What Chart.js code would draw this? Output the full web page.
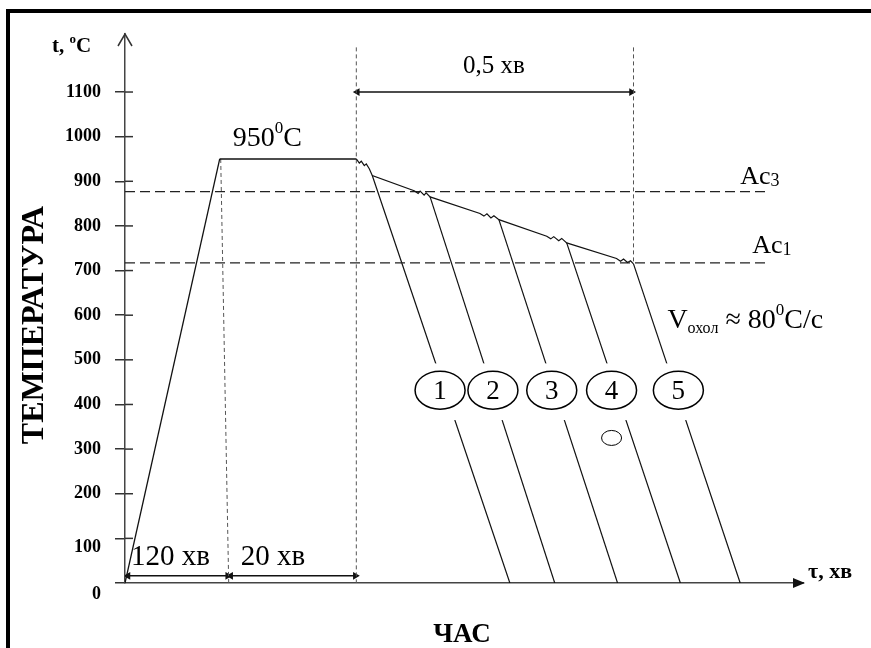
<!DOCTYPE html>
<html>
<head>
<meta charset="utf-8">
<script src="https://cdn.jsdelivr.net/npm/chart.js@4.4.1/dist/chart.umd.min.js"></script>
<style>
  html, body { margin: 0; padding: 0; background: #fff; }
  #wrap { position: relative; width: 871px; height: 648px; overflow: hidden; }
  #frame { position: absolute; left: 6px; top: 9px; right: -10px; bottom: -10px; border-top: 4px solid #000; border-left: 4px solid #000; pointer-events: none; }
  canvas { position: absolute; left: 0; top: 0; }
</style>
</head>
<body>
<div id="wrap">
  <canvas id="chart" width="871" height="648"></canvas>
  <div id="frame"></div>
</div>
<script>
// --- DATA (time in schematic units, temperature in °C) ---
const yTicks = [0, 100, 200, 300, 400, 500, 600, 700, 800, 900, 1000, 1100];
const lowTicks = [0, 100]; // these two labels sit a little lower in the original
const heating = [[0, 0], [9.5, 950]];
const holding = [[9.5, 950], [23.2, 950]];
// slow cooling from 950 to Ac1, with the small wavy spots before each branch
const slowCool = [
  [23.2, 950], [23.5, 941], [23.7, 945], [24.0, 935], [24.2, 939], [24.5, 928], [24.8, 913],
  [29.0, 879], [29.4, 873], [29.6, 878], [30.0, 869], [30.2, 874], [30.6, 865],
  [35.6, 828], [36.0, 822], [36.3, 827], [36.7, 818], [37.0, 823], [37.5, 814],
  [42.3, 777], [42.7, 771], [43.0, 776], [43.5, 767], [43.8, 772], [44.3, 762],
  [49.3, 727], [49.7, 721], [50.0, 726], [50.4, 718], [50.7, 722], [51.0, 715]
];
const quenchStart = [[24.8, 913], [30.6, 865], [37.5, 814], [44.3, 762], [51.0, 715]];
const quenchEnd = [38.6, 43.1, 49.4, 55.7, 61.7];
const quenchNames = ['1', '2', '3', '4', '5'];
const ac3 = 877, ac1 = 717, acEnd = 64.4;
const guideHeat = [[9.6, 950], [10.4, 0]];
const guideHold = [[23.2, 1200], [23.2, 0]];
const guideHalf = [[51.0, 1200], [51.0, 715]];
const dim120 = [[0.3, 16], [10.3, 16]];
const dim20 = [[10.6, 16], [23.1, 16]];
const dimHalf = [[23.3, 1100], [50.8, 1100]];

const SERIF = '"Liberation Serif", "Times New Roman", serif';
const pts = a => a.map(p => ({ x: p[0], y: p[1] }));

function line(data, opts) {
  return Object.assign({ data: pts(data), showLine: true, pointRadius: 0, borderColor: '#111',
    borderWidth: 1.3, fill: false, tension: 0 }, opts || {});
}
function dimArrow(data) {
  return line(data, { borderWidth: 1.5, pointRadius: 4.5, pointStyle: 'triangle',
    pointRotation: [-90, 90], pointBackgroundColor: '#111', pointBorderWidth: 0 });
}

const datasets = [
  line(heating), line(holding), line(slowCool, { borderWidth: 1.2 }),
  line([[0, ac3], [acEnd, ac3]], { borderDash: [10, 5], borderColor: '#222' }),
  line([[0, ac1], [acEnd, ac1]], { borderDash: [10, 5], borderColor: '#222' }),
  line(guideHeat, { borderDash: [4, 3], borderColor: '#555', borderWidth: 1 }),
  line(guideHold, { borderDash: [4, 3], borderColor: '#555', borderWidth: 1 }),
  line(guideHalf, { borderDash: [4, 3], borderColor: '#555', borderWidth: 1 }),
  dimArrow(dim120), dimArrow(dim20), dimArrow(dimHalf)
];
quenchStart.forEach((p, i) => datasets.push(line([p, [quenchEnd[i], 0]], { borderWidth: 1.2 })));

// --- texts, arrows, circles ---
function rich(ctx, x, y, parts, align) {
  let w = 0;
  parts.forEach(p => { ctx.font = (p.bold ? 'bold ' : '') + p.size + 'px ' + SERIF; w += ctx.measureText(p.t).width; });
  let cx = align === 'center' ? x - w / 2 : x;
  ctx.textAlign = 'left'; ctx.textBaseline = 'alphabetic';
  parts.forEach(p => {
    ctx.font = (p.bold ? 'bold ' : '') + p.size + 'px ' + SERIF;
    ctx.fillText(p.t, cx, y + (p.dy || 0));
    cx += ctx.measureText(p.t).width;
  });
}

const decor = {
  id: 'decor',
  afterDatasetsDraw(chart) {
    const { ctx, scales: { x, y } } = chart;
    ctx.save();
    // lines are broken where the numbered labels sit
    ctx.fillStyle = '#fff';
    ctx.fillRect(x.getPixelForValue(28), y.getPixelForValue(492), x.getPixelForValue(59) - x.getPixelForValue(28),
      y.getPixelForValue(365) - y.getPixelForValue(492));
    const cxs = [31.6, 36.9, 42.8, 48.8, 55.5];
    ctx.lineWidth = 1.5; ctx.strokeStyle = '#000';
    cxs.forEach((v, i) => {
      const px = x.getPixelForValue(v), py = y.getPixelForValue(432);
      ctx.beginPath(); ctx.ellipse(px, py, 25, 19, 0, 0, Math.PI * 2);
      ctx.fillStyle = '#fff'; ctx.fill(); ctx.stroke();
      ctx.fillStyle = '#000'; ctx.font = '27px ' + SERIF; ctx.textAlign = 'center'; ctx.textBaseline = 'middle';
      ctx.fillText(quenchNames[i], px, py + 2);
    });
    ctx.beginPath(); ctx.lineWidth = 1;
    ctx.ellipse(x.getPixelForValue(48.8), y.getPixelForValue(325), 10, 7.5, 0, 0, Math.PI * 2); ctx.stroke();
    ctx.restore();
  },
  afterDraw(chart) {
    const { ctx, chartArea: a, scales: { x, y } } = chart;
    ctx.save();
    ctx.strokeStyle = '#333'; ctx.fillStyle = '#111'; ctx.lineWidth = 1.5;
    // inner halves of the y tick marks
    yTicks.forEach(v => { if (!v) return; const py = y.getPixelForValue(v);
      ctx.beginPath(); ctx.moveTo(a.left, py); ctx.lineTo(a.left + 8, py); ctx.stroke(); });
    // y axis open arrow head
    ctx.beginPath(); ctx.moveTo(a.left - 7, a.top + 12); ctx.lineTo(a.left, a.top); ctx.lineTo(a.left + 7, a.top + 12); ctx.stroke();
    // x axis filled arrow head
    ctx.beginPath(); ctx.moveTo(a.right + 2, a.bottom); ctx.lineTo(a.right - 10, a.bottom - 5); ctx.lineTo(a.right - 10, a.bottom + 5);
    ctx.closePath(); ctx.fill();

    ctx.fillStyle = '#000';
    // the two lowest tick labels, shifted down as in the original
    ctx.font = 'bold 18px ' + SERIF; ctx.textAlign = 'right'; ctx.textBaseline = 'middle';
    lowTicks.forEach(v => ctx.fillText(String(v), a.left - 24, y.getPixelForValue(v) + (v ? 9 : 11)));

    rich(ctx, 52, 52, [{ t: 't, ', size: 21, bold: true }, { t: 'o', size: 13, bold: true, dy: -9 }, { t: 'C', size: 21, bold: true }]);
    rich(ctx, a.right + 5, a.bottom - 5, [{ t: 'τ, хв', size: 22, bold: true }]);
    ctx.font = 'bold 27px ' + SERIF; ctx.textAlign = 'center'; ctx.textBaseline = 'alphabetic';
    ctx.fillText('ЧАС', 462, 642);
    ctx.save(); ctx.translate(43, 325); ctx.rotate(-Math.PI / 2);
    ctx.font = 'bold 32px ' + SERIF; ctx.fillText('ТЕМПЕРАТУРА', 0, 0, 250); ctx.restore();

    rich(ctx, x.getPixelForValue(10.8), y.getPixelForValue(980), [{ t: '950', size: 28 }, { t: '0', size: 17, dy: -13 }, { t: 'C', size: 28 }]);
    rich(ctx, x.getPixelForValue(37.0), y.getPixelForValue(1142), [{ t: '0,5 хв', size: 25 }], 'center');
    rich(ctx, x.getPixelForValue(61.7), y.getPixelForValue(893), [{ t: 'Ac', size: 26 }, { t: '3', size: 18, dy: 2 }]);
    rich(ctx, x.getPixelForValue(62.9), y.getPixelForValue(740), [{ t: 'Ac', size: 26 }, { t: '1', size: 18, dy: 2 }]);
    rich(ctx, x.getPixelForValue(54.4), y.getPixelForValue(572), [{ t: 'V', size: 28 }, { t: 'охол', size: 16, dy: 5 },
      { t: ' ≈ 80', size: 28 }, { t: '0', size: 17, dy: -13 }, { t: 'C/с', size: 28 }]);
    rich(ctx, x.getPixelForValue(0.6), y.getPixelForValue(40), [{ t: '120 хв', size: 29 }]);
    rich(ctx, x.getPixelForValue(11.6), y.getPixelForValue(40), [{ t: '20 хв', size: 29 }]);
    ctx.restore();
  }
};

new Chart(document.getElementById('chart'), {
  type: 'scatter',
  data: { datasets },
  options: {
    responsive: false, animation: false, devicePixelRatio: 1,
    layout: { padding: { left: 8, right: 68, top: 34, bottom: 65 } },
    plugins: { legend: { display: false }, tooltip: { enabled: false } },
    scales: {
      x: {
        type: 'linear', min: 0, max: 68,
        ticks: { display: false }, grid: { display: false, drawTicks: false },
        border: { display: true, color: '#444', width: 1.5 },
        afterFit(s) { s.height = 0; }
      },
      y: {
        type: 'linear', min: 0, max: 1230,
        afterBuildTicks(s) { s.ticks = yTicks.map(v => ({ value: v })); },
        ticks: { color: '#000', padding: 14, font: { family: SERIF, size: 18, weight: 'bold' },
          callback: v => lowTicks.includes(v) ? '' : String(v) },
        grid: { drawOnChartArea: false, tickLength: 10, color: '#333', lineWidth: 1.5 },
        border: { display: true, color: '#444', width: 1.5 },
        afterFit(s) { s.width = 117; }
      }
    }
  },
  plugins: [decor]
});
</script>
</body>
</html>
